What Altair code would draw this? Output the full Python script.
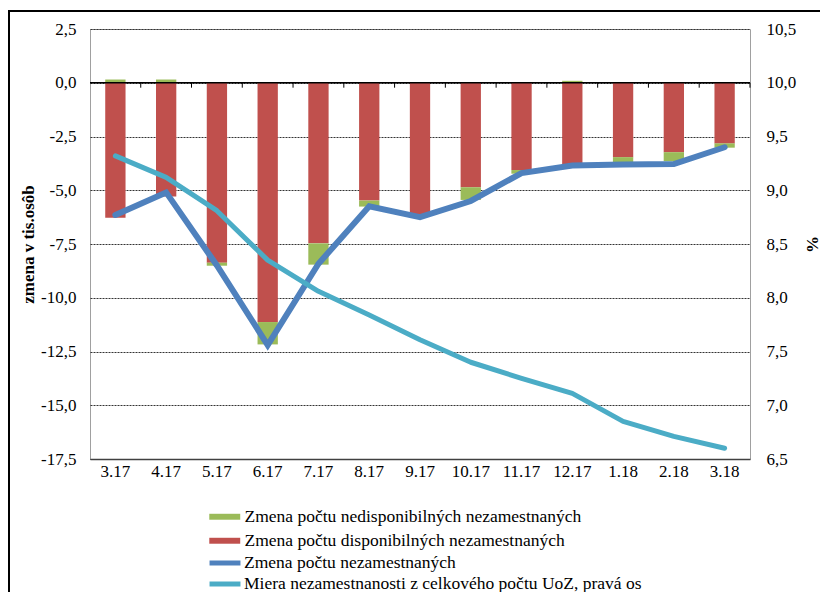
import altair as alt
import pandas as pd

months = ["3.17", "4.17", "5.17", "6.17", "7.17", "8.17", "9.17",
          "10.17", "11.17", "12.17", "1.18", "2.18", "3.18"]
nedisp = [0.15, 0.15, -0.14, -1.04, -0.99, -0.28, -0.05, -0.59, -0.17, 0.09, -0.23, -0.42, -0.20]
disp = [-6.28, -5.29, -8.37, -11.13, -7.47, -5.48, -6.13, -4.86, -4.06, -3.81, -3.46, -3.23, -2.82]
total = [-6.15, -5.10, -8.50, -12.20, -8.42, -5.75, -6.25, -5.50, -4.20, -3.85, -3.80, -3.78, -3.00]
rate = [9.32, 9.12, 8.81, 8.35, 8.06, 7.84, 7.61, 7.40, 7.25, 7.11, 6.85, 6.71, 6.60]

bar_names = ["Zmena počtu nedisponibilných nezamestnaných",
             "Zmena počtu disponibilných nezamestnaných"]
line_names = ["Zmena počtu nezamestnaných",
              "Miera nezamestnanosti z celkového počtu UoZ, pravá os"]
left_ticks = [-17.5, -15.0, -12.5, -10.0, -7.5, -5.0, -2.5, 0.0, 2.5]
right_ticks = [6.5, 7.0, 7.5, 8.0, 8.5, 9.0, 9.5, 10.0, 10.5]
left_title = "zmena v tis.osôb"
right_title = "%"

FONT = "Liberation Serif, Times New Roman, serif"
label_expr = "replace(replace(format(datum.value, '.1f'), '.', ','), '\u2212', '-')"

bar_rows = []
for i, m in enumerate(months):
    bar_rows.append({"month": m, "series": bar_names[1], "value": disp[i], "ord": 0})
    bar_rows.append({"month": m, "series": bar_names[0], "value": nedisp[i], "ord": 1})
bar_df = pd.DataFrame(bar_rows)
blue_df = pd.DataFrame({"month": months, "series": line_names[0], "value": total})
cyan_df = pd.DataFrame({"month": months, "series": line_names[1], "value": rate})
tick_df = pd.DataFrame({"month": months})

xscale = alt.Scale(paddingInner=0.6, paddingOuter=0.3)
xaxis = alt.Axis(title=None, labelAngle=0, ticks=False, grid=False)
yscale_l = alt.Scale(domain=[-17.5, 2.5], nice=False, zero=False)
yscale_r = alt.Scale(domain=[6.5, 10.5], nice=False, zero=False)

bar_legend = alt.Legend(title=None, orient="none", legendX=126, legendY=479,
                        symbolType="M-1.82,-0.35H1.82V0.35H-1.82Z", symbolSize=289,
                        symbolStrokeWidth=0, labelFontSize=17.5, labelFont=FONT,
                        rowPadding=5, labelOffset=11, padding=0, labelLimit=0,
                        symbolOpacity=1)
line_legend = alt.Legend(title=None, orient="none", legendX=124, legendY=523,
                         symbolType="M-1.82,0H1.82", symbolSize=289,
                         symbolStrokeWidth=5, labelFontSize=17.5, labelFont=FONT,
                         rowPadding=0, labelOffset=8, padding=0, labelLimit=0)
stroke_enc = alt.Stroke("series:N",
                        scale=alt.Scale(domain=line_names, range=["#4F81BD", "#4BACC6"]),
                        legend=line_legend)

bars = alt.Chart(bar_df).mark_bar().encode(
    x=alt.X("month:N", sort=months, scale=xscale, axis=xaxis),
    y=alt.Y("value:Q", stack="zero", scale=yscale_l,
            axis=alt.Axis(title=left_title, values=left_ticks, labelExpr=label_expr)),
    color=alt.Color("series:N",
                    scale=alt.Scale(domain=bar_names, range=["#9BBB59", "#C0504D"]),
                    legend=bar_legend),
    order=alt.Order("ord:Q"),
)

zero_line = alt.Chart(alt.Data(values=[{"z": 0}])).mark_rule(
    color="black", strokeWidth=1.5).encode(y=alt.Y("z:Q", scale=yscale_l))

ticks = alt.Chart(tick_df).mark_rule(color="black", strokeWidth=1, xOffset=15.2).encode(
    x=alt.X("month:N", sort=months, scale=xscale, axis=xaxis, bandPosition=1),
    y=alt.datum(0),
    y2=alt.datum(-0.23),
)

blue = alt.Chart(blue_df).mark_line(strokeWidth=6, strokeCap="round", strokeJoin="miter").encode(
    x=alt.X("month:N", sort=months, scale=xscale, axis=xaxis),
    y=alt.Y("value:Q", scale=yscale_l),
    stroke=stroke_enc,
)

cyan = alt.Chart(cyan_df).mark_line(strokeWidth=5, strokeCap="round", strokeJoin="round").encode(
    x=alt.X("month:N", sort=months, scale=xscale, axis=xaxis),
    y=alt.Y("value:Q", scale=yscale_r,
            axis=alt.Axis(title=right_title, orient="right", values=right_ticks,
                          labelExpr=label_expr, grid=False)),
    stroke=stroke_enc,
)

frame = alt.Chart(alt.Data(values=[{}])).mark_rect(
    filled=False, stroke="black", strokeWidth=2).encode(
    x=alt.value(-81), x2=alt.value(760), y=alt.value(-18), y2=alt.value(700))

left = alt.layer(bars, zero_line, ticks, blue)
chart = alt.layer(left, cyan, frame).resolve_scale(y="independent").properties(
    width=660, height=430,
    autosize=alt.AutoSizeParams(type="none"),
    padding={"left": 82, "top": 21, "right": 70, "bottom": 133},
    background="white",
).configure(font=FONT).configure_view(
    stroke="#a0a0a0", strokeWidth=1
).configure_axisBottom(
    domain=True, domainColor="#404040", domainWidth=1.5, labelFontSize=17,
    labelFont=FONT, labelColor="black", labelPadding=4,
).configure_axisLeft(
    domain=False, ticks=False, labelFontSize=17, labelFont=FONT, labelColor="black",
    labelPadding=14, grid=True, gridColor="#333333", gridDash=[2, 1], gridWidth=1,
    titleFont=FONT, titleFontSize=17, titleFontWeight="bold", titleColor="black",
    titleX=-62, titleY=215, titleAngle=-90, titleAlign="center", titleBaseline="middle",
).configure_axisRight(
    domain=False, ticks=False, labelFontSize=17, labelFont=FONT, labelColor="black",
    labelPadding=16, grid=False,
    titleFont=FONT, titleFontSize=17, titleFontWeight="bold", titleColor="black",
    titleX=62, titleY=215, titleAngle=-90, titleAlign="center", titleBaseline="middle",
)

chart.save("out.html", embed_options={"renderer": "svg", "actions": False})
